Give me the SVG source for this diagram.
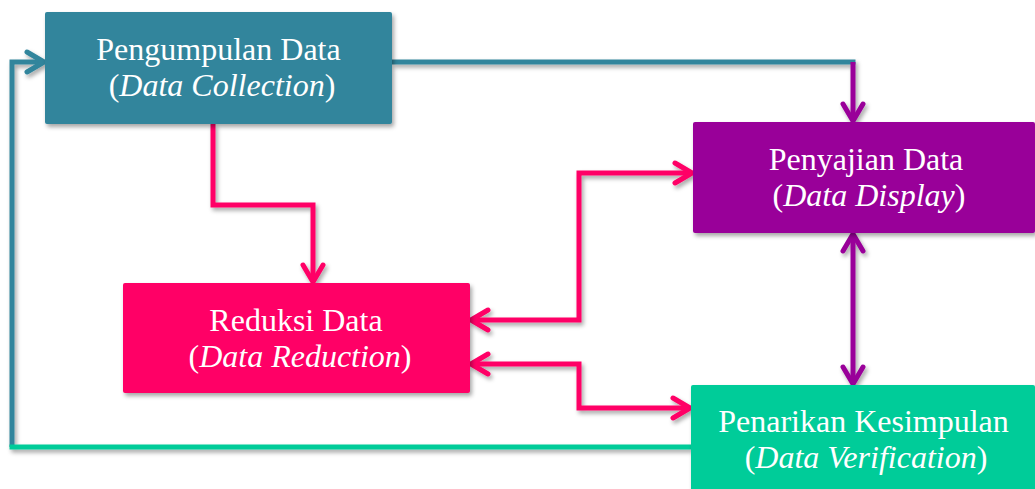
<svg xmlns="http://www.w3.org/2000/svg" width="1035" height="489" viewBox="0 0 1035 489">
<style>
.box{stroke:none}
.t{font-family:"Liberation Serif","Times New Roman",serif;font-size:32px;fill:#ffffff;text-anchor:middle}
.i{font-style:italic}
.c{fill:none;stroke-width:5;stroke-linejoin:miter;stroke-linecap:butt}
.teal{stroke:#31859C}
.pink{stroke:#FF0066}
.purple{stroke:#990099}
.green{stroke:#00CC99}
</style>
<defs>
<filter id="sh" x="-10%" y="-10%" width="130%" height="140%">
<feDropShadow dx="2" dy="3" stdDeviation="2" flood-color="#000" flood-opacity="0.35"/>
</filter>
<marker id="aTeal" markerUnits="userSpaceOnUse" markerWidth="40" markerHeight="40" refX="20" refY="20" orient="auto-start-reverse" viewBox="0 0 40 40">
<path d="M3,10 L20,20 L3,30" fill="none" stroke="#31859C" stroke-width="5" stroke-linecap="round" stroke-linejoin="round"/>
</marker>
<marker id="aPink" markerUnits="userSpaceOnUse" markerWidth="40" markerHeight="40" refX="20" refY="20" orient="auto-start-reverse" viewBox="0 0 40 40">
<path d="M3,10 L20,20 L3,30" fill="none" stroke="#FF0066" stroke-width="5" stroke-linecap="round" stroke-linejoin="round"/>
</marker>
<marker id="aPurple" markerUnits="userSpaceOnUse" markerWidth="40" markerHeight="40" refX="20" refY="20" orient="auto-start-reverse" viewBox="0 0 40 40">
<path d="M3,10 L20,20 L3,30" fill="none" stroke="#990099" stroke-width="5" stroke-linecap="round" stroke-linejoin="round"/>
</marker>
</defs>
<rect width="1035" height="489" fill="#ffffff"/>
<g id="connectors" filter="url(#sh)">
<path class="c teal" d="M392,62 H855.5"/>
<path class="c purple" d="M853,62 V121" marker-end="url(#aPurple)"/>
<path class="c teal" d="M12,447 V62 H44" marker-end="url(#aTeal)"/>
<path class="c green" d="M691,447 H9.5"/>
<path class="c pink" d="M213,124 V205 H313 V282" marker-end="url(#aPink)"/>
<path class="c pink" d="M471,320 H579 V173 H692" marker-start="url(#aPink)" marker-end="url(#aPink)"/>
<path class="c pink" d="M471,364 H579 V408 H690" marker-start="url(#aPink)" marker-end="url(#aPink)"/>
<path class="c purple" d="M853,234 V384" marker-start="url(#aPurple)" marker-end="url(#aPurple)"/>
</g>
<g id="node-pengumpulan">
<rect class="box" x="45" y="12" width="347" height="112" rx="2" fill="#31859C" filter="url(#sh)"/>
<text class="t" x="218.5" y="60">Pengumpulan Data</text>
<text class="t" x="222" y="96">(<tspan class="i">Data Collection</tspan>)</text>
</g>
<g id="node-penyajian">
<rect class="box" x="693" y="122" width="342" height="111" rx="2" fill="#990099" filter="url(#sh)"/>
<text class="t" x="866" y="170">Penyajian Data</text>
<text class="t" x="869" y="206">(<tspan class="i">Data Display</tspan>)</text>
</g>
<g id="node-reduksi">
<rect class="box" x="123" y="283" width="347" height="110" rx="2" fill="#FF0066" filter="url(#sh)"/>
<text class="t" x="296" y="331">Reduksi Data</text>
<text class="t" x="300" y="367">(<tspan class="i">Data Reduction</tspan>)</text>
</g>
<g id="node-penarikan">
<rect class="box" x="691" y="385" width="344" height="110" rx="2" fill="#00CC99" filter="url(#sh)"/>
<text class="t" x="863.5" y="432">Penarikan Kesimpulan</text>
<text class="t" x="866" y="468">(<tspan class="i">Data Verification</tspan>)</text>
</g>
</svg>
